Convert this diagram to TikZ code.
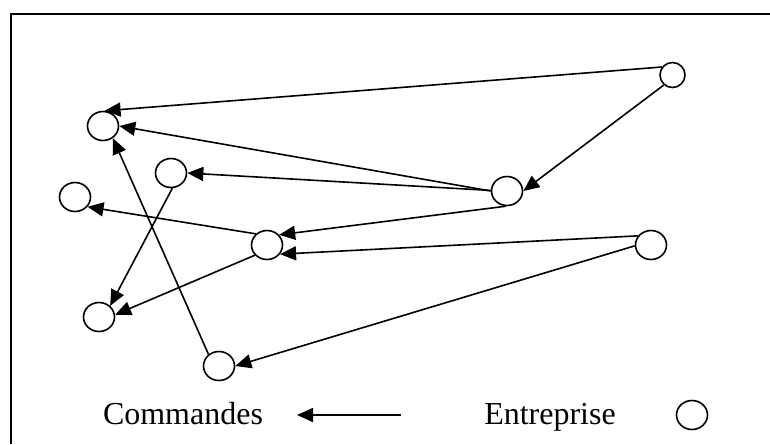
\documentclass[tikz,border=0pt]{standalone}
\usepackage{fontspec}
\setmainfont{Liberation Serif}
\usetikzlibrary{shapes.geometric,arrows.meta}
\begin{document}
\begin{tikzpicture}[x=0.75pt,y=-0.75pt,
  ent/.style={draw, ellipse, line width=1.2pt, inner sep=0pt, minimum width=23.25pt, minimum height=21.75pt},
  entsmall/.style={draw, ellipse, line width=1.2pt, inner sep=0pt, minimum width=18.75pt, minimum height=18.75pt},
  arr/.style={line width=1.2pt, -{Triangle[length=12pt,width=10.5pt]}},
  lbl/.style={font=\fontsize{24}{28}\selectfont, inner sep=0pt, anchor=base}]
\useasboundingbox (0,0) rectangle (770,444);
\draw[line width=1.6pt] (11,444) -- (11,14) -- (770,14);
% nodes
\node[ent] (A) at (103,126) {};
\node[ent] (B) at (171,173) {};
\node[ent] (C) at (75,197) {};
\node[entsmall] (D) at (672.5,75) {};
\node[ent] (E) at (507,191) {};
\node[ent] (F) at (267,245) {};
\node[ent] (G) at (99,317) {};
\node[ent] (H) at (219,366) {};
\node[ent] (I) at (651,245) {};
% connectors
\draw[arr] (D.143) -- (A.84);
\draw[arr] (D.229) -- (E.0);
\draw[arr] (E.180) -- (A.0);
\draw[arr] (E.178) -- (B.0);
\draw[arr] (E.-95) -- (F.40);
\draw[arr] (I.145) -- (F.-35);
\draw[arr] (I.183) -- (H.0);
\draw[arr] (F.135) -- (C.-38);
\draw[arr] (F.220) -- (G.8);
\draw[arr] (B.-85) -- (G.45);
\draw[arr] (H.132) -- (A.-51);
% legend
\node[lbl] (cmd) at (183,424) {Commandes};
\coordinate (lt) at (401,415);
\coordinate (lh) at (297,415);
\draw[arr] (lt) -- (lh);
\node[lbl] (entl) at (550,424) {Entreprise};
\node[ent] (L) at (692,415) {};
\end{tikzpicture}
\end{document}
